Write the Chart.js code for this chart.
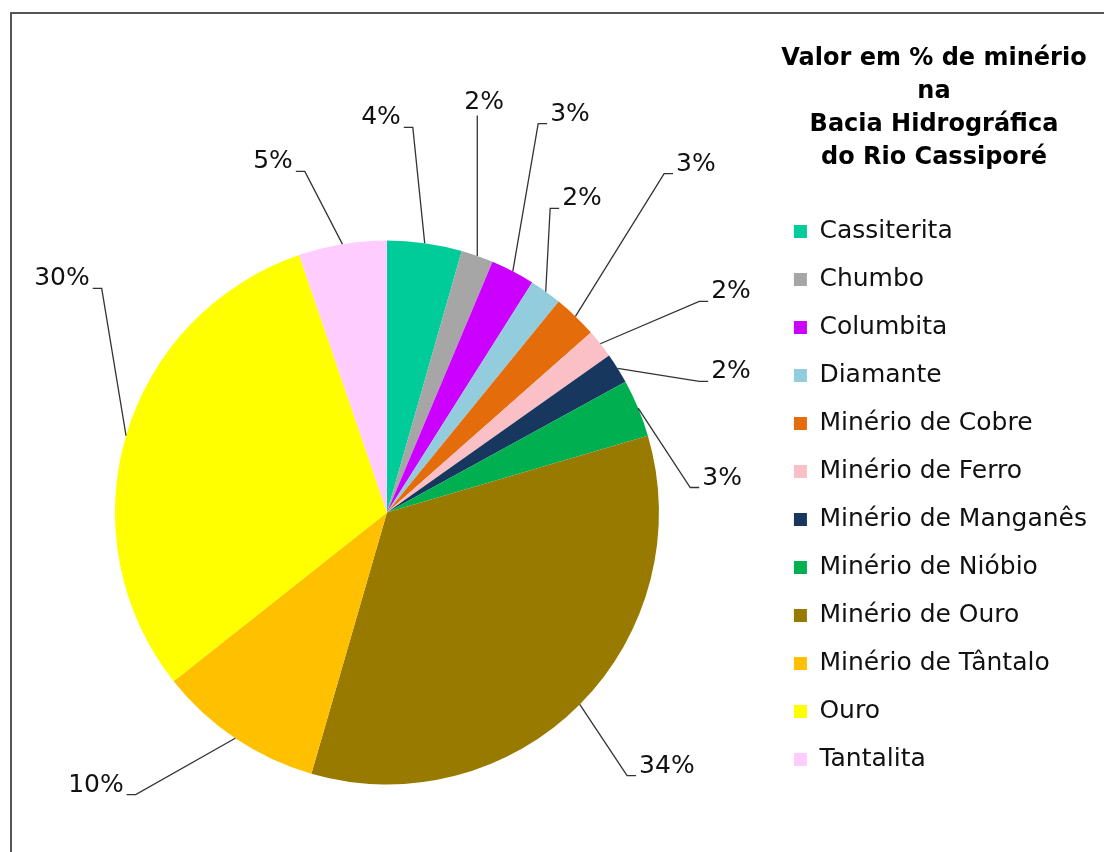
<!DOCTYPE html>
<html>
<head>
<meta charset="utf-8">
<script src="https://cdn.jsdelivr.net/npm/chart.js@4.4.0/dist/chart.umd.min.js"></script>
<style>
  html, body { margin: 0; padding: 0; background: #fff; }
  #wrap { width: 1104px; height: 852px; }
</style>
</head>
<body>
<div id="wrap"><canvas id="myChart" width="1104" height="852"></canvas></div>
<script>
let labels = ['Cassiterita', 'Chumbo', 'Columbita', 'Diamante', 'Minério de Cobre', 'Minério de Ferro',
              'Minério de Manganês', 'Minério de Nióbio', 'Minério de Ouro', 'Minério de Tântalo', 'Ouro', 'Tantalita'];
let values = [4.4, 1.9, 2.6, 1.9, 2.6, 1.7, 1.8, 3.4, 33.8, 9.8, 30.2, 5.2];
let colorHex = ['#00CC99', '#A6A6A6', '#CC00FF', '#93CDDD', '#E46C0A', '#FAC0C6',
                '#17375E', '#00B050', '#997A00', '#FFC000', '#FFFF00', '#FFCCFF'];
let titleLines = ['Valor em % de minério', 'na', 'Bacia Hidrográfica', 'do Rio Cassiporé'];

// where each % label sits, as [dx, dy] from the pie centre in radius units
let labelPos = [[-0.022, -1.460], [0.357, -1.518], [0.673, -1.474], [0.717, -1.162],
                [1.136, -1.290], [1.265, -0.820], [1.265, -0.526], [1.232, -0.136],
                [1.029, 0.923], [-1.070, 0.993], [-1.195, -0.868], [-0.419, -1.298]];

const frame = {
    id: 'frame',
    beforeDraw(chart) {
        const c = chart.ctx;
        c.save();
        c.fillStyle = '#fff';
        c.fillRect(0, 0, chart.width, chart.height);
        c.strokeStyle = '#555';
        c.lineWidth = 2;
        c.beginPath();
        c.moveTo(11, chart.height);
        c.lineTo(11, 13);
        c.lineTo(chart.width, 13);
        c.stroke();
        c.restore();
    }
};

const sliceLabels = {
    id: 'sliceLabels',
    afterDatasetsDraw(chart) {
        const c = chart.ctx;
        const meta = chart.getDatasetMeta(0);
        const total = values.reduce((a, b) => a + b, 0);
        c.save();
        c.font = '25px "DejaVu Sans"';
        c.fillStyle = '#111';
        c.strokeStyle = '#333';
        c.lineWidth = 1.3;
        meta.data.forEach((arc, i) => {
            const p = arc.getProps(['x', 'y', 'startAngle', 'endAngle', 'outerRadius'], true);
            const mid = (p.startAngle + p.endAngle) / 2;
            const px = p.x + Math.cos(mid) * p.outerRadius;
            const py = p.y + Math.sin(mid) * p.outerRadius;
            const cx = p.x + labelPos[i][0] * p.outerRadius;
            const cy = p.y + labelPos[i][1] * p.outerRadius;
            const txt = Math.round(values[i] / total * 100) + '%';
            const w = c.measureText(txt).width;
            c.textAlign = 'center';
            c.textBaseline = 'alphabetic';
            c.fillText(txt, cx, cy + 9);
            const l = cx - w / 2, r = cx + w / 2, sy = cy + 12;
            c.beginPath();
            if (px >= l && px <= r) {
                c.moveTo(px, cy + 16);
            } else if (px > r) {
                c.moveTo(r + 3, sy);
                c.lineTo(r + 12, sy);
            } else {
                c.moveTo(l - 3, sy);
                c.lineTo(l - 12, sy);
            }
            c.lineTo(px, py);
            c.stroke();
        });
        c.restore();
    }
};

const legendTitle = {
    id: 'legendTitle',
    afterDraw(chart) {
        const c = chart.ctx;
        const lg = chart.legend;
        const x = (lg.left + lg.right) / 2;
        c.save();
        c.font = 'bold 24px "DejaVu Sans"';
        c.fillStyle = '#000';
        c.textAlign = 'center';
        c.textBaseline = 'alphabetic';
        titleLines.forEach((t, i) => c.fillText(t, x, 65 + i * 33));
        c.restore();
    }
};

let ctx = document.getElementById('myChart').getContext('2d');
let myChart = new Chart(ctx, {
    type: 'pie',
    data: {
        labels: labels,
        datasets: [{
            data: values,
            backgroundColor: colorHex,
            borderWidth: 0,
            radius: 272
        }]
    },
    options: {
        responsive: false,
        animation: false,
        layout: { padding: { left: 3, right: 7, top: 196, bottom: 23 } },
        plugins: {
            legend: {
                position: 'right',
                align: 'start',
                labels: {
                    boxWidth: 13,
                    boxHeight: 13,
                    padding: 23,
                    color: '#111',
                    font: { family: 'DejaVu Sans', size: 25 }
                }
            },
            tooltip: { enabled: false }
        }
    },
    plugins: [frame, sliceLabels, legendTitle]
});
</script>
</body>
</html>
